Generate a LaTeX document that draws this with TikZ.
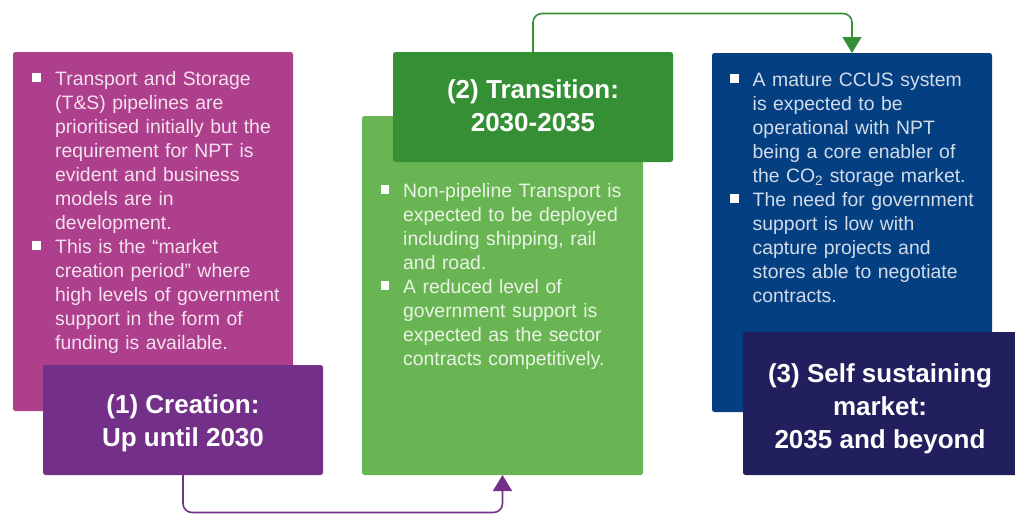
\documentclass[tikz,border=0pt]{standalone}
\usepackage{fontspec}
\setmainfont{Liberation Sans}
\usetikzlibrary{arrows.meta}

\definecolor{magentabox}{HTML}{AE3F8C}
\definecolor{purplehead}{HTML}{743088}
\definecolor{lightgreenbox}{HTML}{69B553}
\definecolor{greenhead}{HTML}{348F35}
\definecolor{bluebox}{HTML}{043F82}
\definecolor{navyhead}{HTML}{221F5E}

\begin{document}
\begin{tikzpicture}[x=1pt,y=-1pt,
  panel/.style={rounded corners=2.5pt, inner sep=0pt, outer sep=0pt, anchor=north west},
  body/.style={anchor=base west, inner sep=0pt, text width=245pt, align=left,
               font=\fontsize{19.4}{24}\selectfont},
  heading/.style={anchor=base, inner sep=0pt, align=center, text=white,
                  font=\bfseries\fontsize{26}{33}\selectfont},
  sq/.style={fill=white, minimum size=8.5pt, inner sep=0pt},
  link/.style={line width=1.6pt, rounded corners=9pt,
               -{Triangle[width=19pt,length=16pt]}}
]
\useasboundingbox (0,0) rectangle (1015,514);

% description panels
\node[panel, fill=magentabox, minimum width=280pt, minimum height=359pt] (mag) at (13,52) {};
\node[panel, fill=lightgreenbox, minimum width=281pt, minimum height=359pt] (lg) at (362,116) {};
\node[panel, fill=bluebox, minimum width=280pt, minimum height=359pt] (blue) at (712,53) {};

% stage headings
\node[panel, fill=purplehead, minimum width=280pt, minimum height=110pt] (cre) at (43,365) {};
\node[panel, fill=greenhead, minimum width=280pt, minimum height=110pt] (tra) at (393,52) {};
\node[panel, fill=navyhead, minimum width=280pt, minimum height=143pt] (self) at (743,332) {};

% heading texts, placed by the baseline of their last line
\node[heading] (creT) at (183,446) {(1) Creation:\\Up until 2030};
\node[heading] (traT) at (533,131.5) {(2) Transition:\\2030-2035};
\node[heading] (selfT) at (880,448) {(3) Self sustaining\\market:\\2035 and beyond};

% bullet squares
\node[sq] (mb1) at (36.5,77.5) {};
\node[sq] (mb2) at (36.5,245.5) {};
\node[sq] (gb1) at (385,189.5) {};
\node[sq] (gb2) at (385,285.5) {};
\node[sq] (bb1) at (734.5,78.5) {};
\node[sq] (bb2) at (734.5,198.5) {};

% bullet texts
\node[body, text=white!85!magentabox] (magT) at (55,85) {Transport and Storage\\
(T\&S) pipelines are\\
prioritised initially but the\\
requirement for NPT is\\
evident and business\\
models are in\\
development.\\
This is the “market\\
creation period” where\\
high levels of government\\
support in the form of\\
funding is available.};

\node[body, text=white!85!lightgreenbox] (lgT) at (403,197) {Non-pipeline Transport is\\
expected to be deployed\\
including shipping, rail\\
and road.\\
A reduced level of\\
government support is\\
expected as the sector\\
contracts competitively.};

\node[body, text=white!82!bluebox] (blueT) at (752.5,86) {A mature CCUS system\\
is expected to be\\
operational with NPT\\
being a core enabler of\\
the CO\textsubscript{2} storage market.\\
The need for government\\
support is low with\\
capture projects and\\
stores able to negotiate\\
contracts.};

% stage connectors
\draw[link, draw=purplehead] (cre.south) -- ++(0,37.5) -| (lg.south);
\draw[link, draw=greenhead] (tra.north) -- ++(0,-38.5) -| (blue.north);
\end{tikzpicture}
\end{document}
